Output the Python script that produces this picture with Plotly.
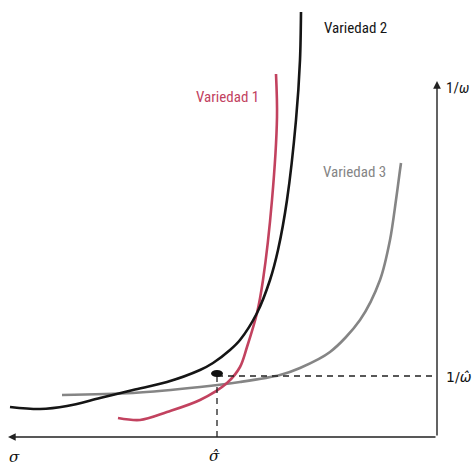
import plotly.graph_objects as go

# Data space: sigma increases to the left (from the vertical axis), 1/omega upward.
v1_sigma = [319, 297, 270, 237, 210, 197, 190, 180, 174, 165, 160, 161]
v1_inv = [19, 17, 25, 37, 54, 70, 90, 124, 157, 237, 320, 363]

v2_sigma = [427, 397, 370, 337, 304, 270, 237, 224, 207, 197, 180, 167, 159, 150, 141, 137, 136]
v2_inv = [30, 28, 31, 39, 47, 55, 67, 74, 87, 97, 124, 157, 187, 237, 317, 377, 425]

v3_sigma = [375, 304, 237, 197, 157, 137, 107, 77, 57, 47, 41, 37, 36]
v3_inv = [42, 44, 50, 55, 62, 69, 85, 117, 157, 197, 237, 267, 274]

sigma_hat = 220
inv_omega_hat = 61

labels = ["Variedad 1", "Variedad 2", "Variedad 3"]
colors = ["#c2425f", "#151515", "#858585"]

fig = go.Figure()
for sx, sy, c in [(v3_sigma, v3_inv, colors[2]), (v1_sigma, v1_inv, colors[0]), (v2_sigma, v2_inv, colors[1])]:
    fig.add_trace(go.Scatter(x=sx, y=sy, mode="lines", line=dict(color=c, width=2.6, shape="spline", smoothing=0.9),
                             hoverinfo="skip", showlegend=False))

# dashed guide lines
fig.add_trace(go.Scatter(x=[sigma_hat, 0], y=[inv_omega_hat, inv_omega_hat], mode="lines",
                         line=dict(color="#222", width=1.3, dash="6px,5px"), hoverinfo="skip", showlegend=False))
fig.add_trace(go.Scatter(x=[sigma_hat, sigma_hat], y=[inv_omega_hat, 0], mode="lines",
                         line=dict(color="#222", width=1.3, dash="6px,5px"), hoverinfo="skip", showlegend=False))
fig.add_shape(type="circle", xref="x", yref="y", x0=sigma_hat + 6, x1=sigma_hat - 6,
              y0=inv_omega_hat - 1, y1=inv_omega_hat + 6, fillcolor="#111", line=dict(width=0))

# axes with arrows
fig.add_annotation(x=0, y=356, ax=0, ay=0, xref="x", yref="y", axref="x", ayref="y",
                   showarrow=True, arrowhead=2, arrowsize=1.1, arrowwidth=1.4, arrowcolor="#222", text="")
fig.add_annotation(x=429, y=0, ax=0, ay=0, xref="x", yref="y", axref="x", ayref="y",
                   showarrow=True, arrowhead=2, arrowsize=1.1, arrowwidth=1.4, arrowcolor="#222", text="")

font = "Liberation Sans Narrow, Roboto Condensed, Roboto, Liberation Sans, Arial"
serif = "DejaVu Serif, Liberation Serif, serif"
fig.add_annotation(x=210, y=340, text=labels[0], showarrow=False, font=dict(family=font, size=15, color=colors[0]))
fig.add_annotation(x=82, y=409, text=labels[1], showarrow=False, font=dict(family=font, size=15, color=colors[1]))
fig.add_annotation(x=83, y=265, text=labels[2], showarrow=False, font=dict(family=font, size=15, color=colors[2]))

fig.add_annotation(x=-20, y=349, text="1/<i>ω</i>", showarrow=False, font=dict(family=font, size=15, color="#111"))
fig.add_annotation(x=-22, y=inv_omega_hat - 1, text="1/<i>ω̂</i>", showarrow=False,
                   font=dict(family="DejaVu Sans, Roboto, sans-serif", size=14, color="#111"))
fig.add_annotation(x=423, y=-20, text="<i>σ</i>", showarrow=False, font=dict(family=serif, size=15, color="#111"))
fig.add_annotation(x=sigma_hat + 3, y=-19, text="<i>σ̂</i>", showarrow=False, font=dict(family=serif, size=15, color="#111"))

fig.update_layout(width=473, height=466, margin=dict(l=0, r=0, t=0, b=0),
                  paper_bgcolor="white", plot_bgcolor="white",
                  xaxis=dict(range=[437, -36], visible=False, fixedrange=True),
                  yaxis=dict(range=[-29, 437], visible=False, fixedrange=True))
fig.write_html("out.html", config={"displayModeBar": False, "staticPlot": True},
               post_script="document.body.style.margin='0';document.body.style.padding='0';document.body.style.overflow='hidden';")
